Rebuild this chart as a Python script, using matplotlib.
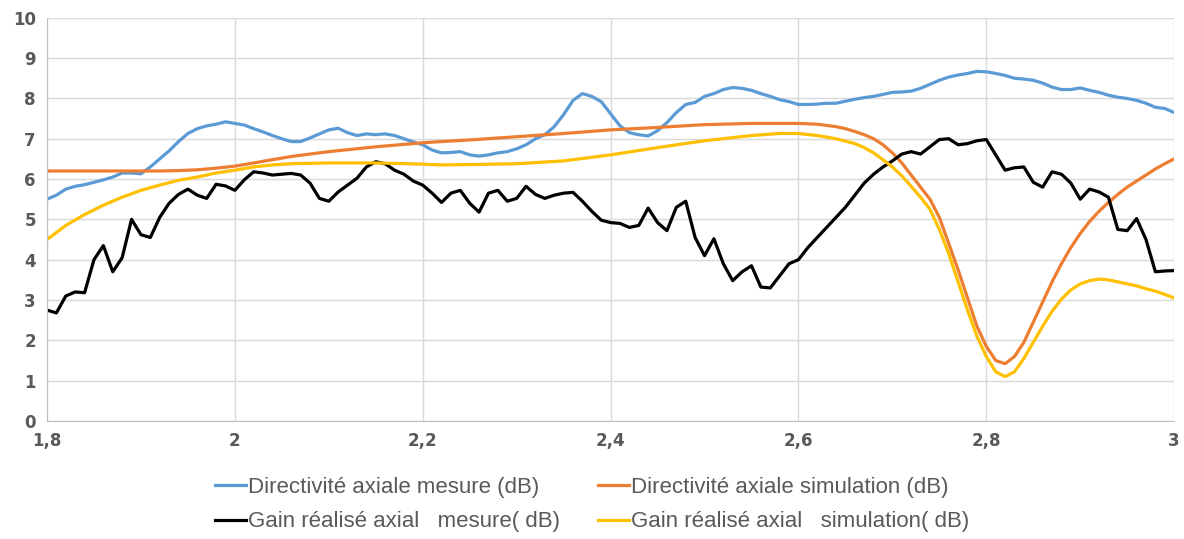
import matplotlib
matplotlib.use('Agg')
import matplotlib.pyplot as plt
import numpy as np

# frequence (GHz), pas de 0.01 pour les mesures
freq = np.round(np.arange(1.80, 3.001, 0.01), 2)

dir_mesure = [5.5, 5.6, 5.75, 5.82, 5.86, 5.92, 5.98, 6.05, 6.15, 6.15,
              6.13, 6.3, 6.5, 6.7, 6.93, 7.13, 7.25, 7.32, 7.36, 7.42,
              7.38, 7.34, 7.25, 7.17, 7.08, 7.0, 6.93, 6.93, 7.02, 7.12,
              7.22, 7.26, 7.15, 7.08, 7.12, 7.1, 7.12, 7.08, 7.0, 6.92,
              6.85, 6.72, 6.65, 6.66, 6.68, 6.6, 6.57, 6.6, 6.65, 6.68,
              6.75, 6.85, 7.0, 7.1, 7.3, 7.6, 7.95, 8.12, 8.05, 7.92,
              7.62, 7.32, 7.15, 7.1, 7.07, 7.2, 7.4, 7.65, 7.85, 7.9,
              8.05, 8.12, 8.22, 8.27, 8.25, 8.2, 8.12, 8.05, 7.97, 7.92,
              7.85, 7.85, 7.86, 7.88, 7.88, 7.93, 7.98, 8.02, 8.05, 8.1,
              8.15, 8.16, 8.18, 8.25, 8.35, 8.45, 8.53, 8.58, 8.62, 8.67,
              8.66, 8.62, 8.57, 8.5, 8.48, 8.45, 8.38, 8.28, 8.22, 8.22,
              8.26, 8.2, 8.15, 8.08, 8.03, 8.0, 7.95, 7.88, 7.78, 7.75,
              7.65]

gain_mesure = [2.75, 2.68, 3.1, 3.2, 3.18, 4.0, 4.35, 3.7, 4.05, 5.0,
               4.62, 4.55, 5.05, 5.4, 5.62, 5.75, 5.6, 5.52, 5.87, 5.83,
               5.72, 5.98, 6.18, 6.15, 6.1, 6.12, 6.14, 6.1, 5.9, 5.52,
               5.45, 5.68, 5.85, 6.02, 6.3, 6.43, 6.38, 6.22, 6.12, 5.95,
               5.85, 5.65, 5.42, 5.65, 5.72, 5.4, 5.18, 5.65, 5.72, 5.45,
               5.52, 5.82, 5.62, 5.52, 5.6, 5.65, 5.67, 5.45, 5.2, 4.98,
               4.92, 4.9, 4.8, 4.85, 5.28, 4.92, 4.72, 5.3, 5.45, 4.55,
               4.1, 4.52, 3.9, 3.48, 3.7, 3.85, 3.32, 3.3, 3.6, 3.9,
               4.0, 4.3, 4.55, 4.8, 5.05, 5.3, 5.6, 5.9, 6.12, 6.3,
               6.45, 6.62, 6.68, 6.62, 6.8, 6.98, 7.0, 6.85, 6.88, 6.95,
               6.98, 6.6, 6.22, 6.28, 6.3, 5.92, 5.8, 6.18, 6.12, 5.9,
               5.5, 5.75, 5.68, 5.55, 4.75, 4.72, 5.02, 4.5, 3.7, 3.72,
               3.73]

# simulations (courbes lisses)
freq_sim = [1.80, 1.82, 1.84, 1.86, 1.88, 1.90, 1.92, 1.94, 1.96, 1.98,
            2.00, 2.02, 2.04, 2.06, 2.10, 2.15, 2.20, 2.22, 2.25, 2.30,
            2.35, 2.40, 2.45, 2.50, 2.55, 2.58, 2.60, 2.62, 2.64, 2.65,
            2.66, 2.67, 2.68, 2.69, 2.70, 2.71, 2.72, 2.73, 2.74, 2.75,
            2.76, 2.77, 2.78, 2.79, 2.80, 2.81, 2.82, 2.83, 2.84, 2.85,
            2.86, 2.87, 2.88, 2.89, 2.90, 2.91, 2.92, 2.93, 2.94, 2.95,
            2.96, 2.97, 2.98, 2.99, 3.00]

dir_sim = [6.2, 6.2, 6.2, 6.2, 6.2, 6.2, 6.2, 6.21, 6.23, 6.27,
           6.32, 6.4, 6.48, 6.56, 6.68, 6.8, 6.9, 6.93, 6.97, 7.05,
           7.13, 7.22, 7.28, 7.35, 7.38, 7.38, 7.38, 7.36, 7.3, 7.25,
           7.18, 7.1, 7.0, 6.85, 6.65, 6.4, 6.1, 5.8, 5.5, 5.05,
           4.4, 3.75, 3.05, 2.35, 1.85, 1.5, 1.42, 1.6, 1.95, 2.45,
           2.95, 3.45, 3.9, 4.3, 4.65, 4.95, 5.2, 5.42, 5.62, 5.8,
           5.95, 6.1, 6.25, 6.38, 6.5]

gain_sim = [4.5, 4.85, 5.12, 5.35, 5.55, 5.72, 5.85, 5.97, 6.05, 6.15,
            6.22, 6.3, 6.35, 6.38, 6.4, 6.4, 6.37, 6.35, 6.36, 6.38,
            6.45, 6.6, 6.78, 6.95, 7.08, 7.13, 7.13, 7.08, 7.0, 6.94,
            6.88, 6.78, 6.65, 6.48, 6.3, 6.08, 5.82, 5.55, 5.25, 4.75,
            4.15, 3.45, 2.75, 2.1, 1.6, 1.22, 1.1, 1.22, 1.55, 1.95,
            2.35, 2.72, 3.02, 3.25, 3.4, 3.48, 3.52, 3.5, 3.45, 3.4,
            3.35, 3.28, 3.22, 3.14, 3.05]

x_ticks = [1.8, 2.0, 2.2, 2.4, 2.6, 2.8, 3.0]
x_labels = ['1,8', '2', '2,2', '2,4', '2,6', '2,8', '3']

labels = ['Directivité axiale mesure (dB)',
          'Directivité axiale simulation (dB)',
          'Gain réalisé axial   mesure( dB)',
          'Gain réalisé axial   simulation( dB)']

fig = plt.figure(figsize=(11.84, 5.39), dpi=100)
ax = fig.add_axes([0.0397, 0.219, 0.952, 0.748])

l1, = ax.plot(freq, dir_mesure, color='#5b9bd5', lw=2.3)
l2, = ax.plot(freq_sim, dir_sim, color='#ed7d31', lw=2.3)
l3, = ax.plot(freq, gain_mesure, color='#000000', lw=2.3)
l4, = ax.plot(freq_sim, gain_sim, color='#ffc000', lw=2.3)

ax.set_xlim(1.8, 3.0)
ax.set_ylim(0, 10)
ax.set_yticks(range(0, 11))
ax.set_xticks(x_ticks)
ax.set_xticklabels(x_labels)
ax.grid(True, color='#d9d9d9', lw=1)
ax.set_axisbelow(True)
for s in ['top', 'right']:
    ax.spines[s].set_visible(False)
for s in ['left', 'bottom']:
    ax.spines[s].set_color('#bfbfbf')
ax.tick_params(length=0, labelsize=12, labelcolor='#595959', pad=8)
for t in ax.get_xticklabels() + ax.get_yticklabels():
    t.set_fontweight('bold')

# legende sur 2 lignes : (bleu, orange) puis (noir, jaune)
fig.legend([l1, l3, l2, l4], [labels[0], labels[2], labels[1], labels[3]],
           loc='upper center', ncol=2,
           bbox_to_anchor=(0.5, 0.152), frameon=False, handlelength=1.4,
           handletextpad=0.1, columnspacing=1.7, labelspacing=0.6,
           prop={'family': ['Liberation Sans', 'DejaVu Sans'], 'size': 16},
           labelcolor='#595959')

fig.savefig('out.png', dpi=100)
